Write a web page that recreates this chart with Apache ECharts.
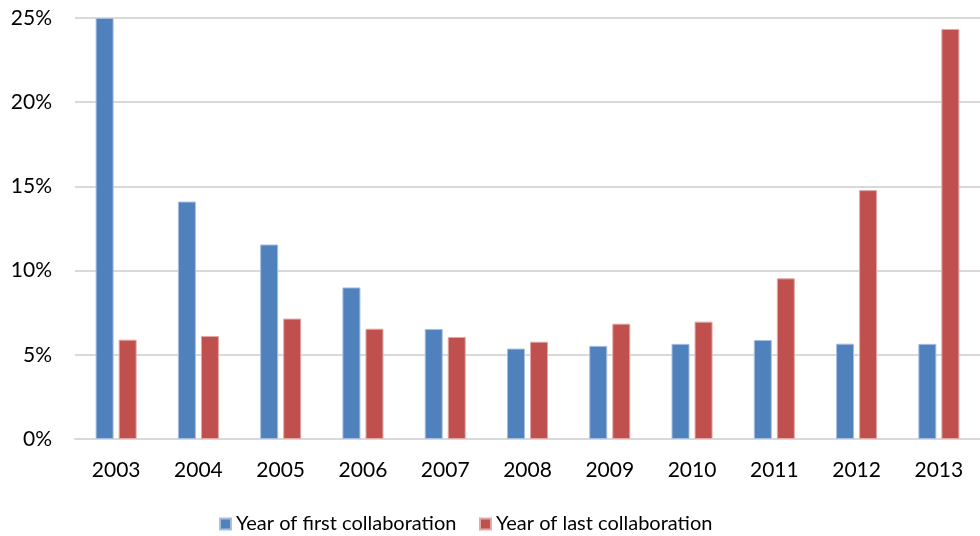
<!DOCTYPE html>
<html>
<head>
<meta charset="utf-8">
<script src="https://cdn.jsdelivr.net/npm/echarts@6/dist/echarts.min.js"></script>
<style>
  html, body { margin: 0; padding: 0; background: #fff; }
  #chart { width: 980px; height: 536px; }
</style>
</head>
<body>
<div id="chart"></div>
<script>
// Share of collaborations by year (percent)
const years = ['2003', '2004', '2005', '2006', '2007', '2008', '2009', '2010', '2011', '2012', '2013'];
const firstCollab = [25.0, 14.1, 11.55, 9.0, 6.53, 5.37, 5.53, 5.65, 5.88, 5.66, 5.65];
const lastCollab = [5.9, 6.12, 7.15, 6.55, 6.06, 5.78, 6.85, 6.97, 9.54, 14.78, 24.35];
const seriesNames = ['Year of first collaboration', 'Year of last collaboration'];
const yTicks = { min: 0, max: 25, interval: 5 };

const FONT = 'Lato';
const chart = echarts.init(document.getElementById('chart'));

const legendText = { fontFamily: FONT, fontSize: 20, color: '#000' };

chart.setOption({
  animation: false,
  color: ['#4F81BD', '#C0504D'],
  grid: { left: 75, right: -1, top: 18, bottom: 97 },
  legend: [
    {
      data: [seriesNames[0]], left: 214, top: 509,
      itemWidth: 11, itemHeight: 11, itemGap: 6, icon: 'rect',
      textStyle: legendText
    },
    {
      data: [seriesNames[1]], left: 474, top: 509,
      itemWidth: 11, itemHeight: 11, itemGap: 6, icon: 'rect',
      textStyle: legendText
    }
  ],
  xAxis: {
    type: 'category',
    data: years,
    axisLine: { lineStyle: { color: '#D9D9D9', width: 2 } },
    axisTick: { show: false },
    axisLabel: { fontFamily: FONT, fontSize: 21, color: '#000', margin: 21 }
  },
  yAxis: {
    type: 'value',
    min: yTicks.min, max: yTicks.max, interval: yTicks.interval,
    axisLine: { show: false },
    axisTick: { show: false },
    splitLine: { lineStyle: { color: '#D9D9D9', width: 2 } },
    axisLabel: {
      fontFamily: FONT, fontSize: 21, color: '#000', margin: 23,
      formatter: '{value}%'
    }
  },
  series: [
    {
      name: seriesNames[0], type: 'bar', data: firstCollab,
      barWidth: 18, barGap: '28%',
      itemStyle: { color: '#4F81BD', borderColor: '#A7BEDF', borderWidth: 1 }
    },
    {
      name: seriesNames[1], type: 'bar', data: lastCollab,
      barWidth: 18, barGap: '28%',
      itemStyle: { color: '#C0504D', borderColor: '#E3A9A7', borderWidth: 1 }
    }
  ]
});
</script>
</body>
</html>
